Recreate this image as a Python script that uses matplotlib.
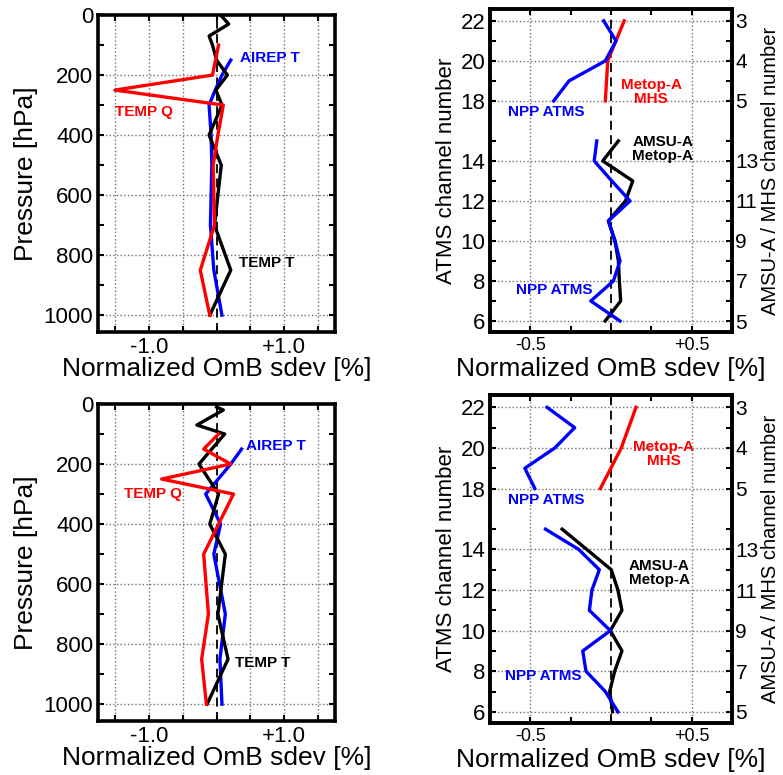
import matplotlib
matplotlib.use("Agg")
import matplotlib.pyplot as plt
from matplotlib.ticker import MultipleLocator, FixedLocator, NullFormatter

plt.rcParams["font.family"] = ["Liberation Sans", "DejaVu Sans"]

# --- conventional obs, upper panel ---
temp_t_p_1 = [5, 30, 70, 100, 150, 200, 250, 300, 400, 500, 700, 850, 1000]
temp_t_1 = [0.08, 0.18, -0.11, -0.06, 0.0, 0.16, -0.01, 0.08, -0.11, 0.07, -0.03, 0.21, -0.10]
temp_q_p_1 = [100, 200, 250, 300, 400, 500, 700, 850, 1000]
temp_q_1 = [0.03, -0.06, -1.50, 0.10, 0.02, -0.05, -0.03, -0.24, -0.10]
airep_p_1 = [150, 200, 250, 300, 400, 500, 700, 850, 1000]
airep_t_1 = [0.21, 0.08, -0.02, -0.11, -0.08, -0.07, -0.09, -0.04, 0.08]

# --- conventional obs, lower panel ---
temp_t_p_2 = [10, 20, 70, 100, 200, 300, 400, 500, 700, 850, 1000]
temp_t_2 = [0.0, 0.10, -0.29, 0.12, -0.26, 0.03, -0.10, 0.13, 0.02, 0.17, -0.14]
temp_q_p_2 = [100, 150, 200, 250, 300, 400, 500, 700, 850, 1000]
temp_q_2 = [0.03, -0.19, 0.21, -0.81, 0.25, 0.03, -0.19, -0.12, -0.22, -0.15]
airep_p_2 = [150, 200, 300, 400, 500, 700, 850, 1000]
airep_t_2 = [0.37, 0.21, -0.16, 0.06, -0.04, 0.13, 0.05, 0.08]

# --- radiances: ATMS channels 6-15 and 18-22, with one empty slot between ---
atms_lo_ch = [6, 7, 8, 9, 10, 11, 12, 13, 14, 15]
atms_hi_ch = [18, 19, 20, 21, 22]
amsua_ch = [5, 6, 7, 8, 9, 10, 11, 12, 13, 14]
mhs_ch = [5, 4, 3]
atms_lo_pos = [c - 6 for c in atms_lo_ch]
atms_hi_pos = [c - 7 for c in atms_hi_ch]
amsua_pos = [c - 5 for c in amsua_ch]
mhs_pos = [11, 13, 15]

atms_hi_1 = [-0.355, -0.26, -0.035, 0.031, -0.045]
mhs_1 = [-0.035, -0.02, 0.082]
atms_lo_1 = [0.056, -0.125, 0.015, 0.056, 0.025, -0.016, 0.118, 0.005, -0.104, -0.088]
amsua_1 = [-0.036, 0.06, 0.052, 0.046, 0.025, -0.016, 0.09, 0.135, -0.051, 0.046]

atms_hi_2 = [-0.472, -0.534, -0.348, -0.225, -0.396]
mhs_2 = [-0.066, 0.064, 0.155]
atms_lo_2 = [0.043, -0.035, -0.155, -0.175, -0.004, -0.134, -0.118, -0.072, -0.20, -0.406]
amsua_2 = [0.01, -0.008, 0.023, 0.068, -0.004, 0.068, 0.043, 0.002, -0.15, -0.303]

left_ticks = [0, 2, 4, 6, 8, 11, 13, 15]
left_labels = ["6", "8", "10", "12", "14", "18", "20", "22"]
right_labels = ["5", "7", "9", "11", "13", "5", "4", "3"]
minor_pos = [1, 3, 5, 7, 9, 12, 14]

BLUE = "#0000ff"
RED = "#ff0000"
LW = 2.4
XLABEL = "Normalized OmB sdev [%]"


def style_frame(ax):
    for sp in ax.spines.values():
        sp.set_linewidth(2.6)
    ax.tick_params(which="both", direction="in", width=1.5, length=4,
                   top=True, right=True)
    ax.axvline(0, color="black", lw=1.3, dashes=(5, 3), zorder=1)


def conv_panel(ax, tt_p, tt, tq_p, tq, ai_p, ai, labels):
    ax.plot(ai, ai_p, color=BLUE, lw=LW, zorder=3)
    ax.plot(tt, tt_p, color="black", lw=LW, zorder=4)
    ax.plot(tq, tq_p, color=RED, lw=LW, zorder=5)
    ax.set_xlim(-1.75, 1.75)
    ax.set_ylim(1056, 0)
    ax.xaxis.set_major_locator(FixedLocator([-1.0, 1.0]))
    ax.xaxis.set_minor_locator(MultipleLocator(0.5))
    ax.set_xticklabels(["-1.0", "+1.0"])
    ax.yaxis.set_major_locator(MultipleLocator(200))
    ax.yaxis.set_minor_locator(MultipleLocator(100))
    ax.tick_params(labelsize=16)
    for x in [-1.5, -1.0, -0.5, 0.5, 1.0, 1.5]:
        ax.axvline(x, color="0.45", lw=1, ls=":", zorder=0)
    for y in range(200, 1001, 200):
        ax.axhline(y, color="0.45", lw=1, ls=":", zorder=0)
    style_frame(ax)
    ax.set_ylabel("Pressure [hPa]", fontsize=19)
    ax.yaxis.set_label_coords(-0.255, 0.5)
    ax.set_xlabel(XLABEL, fontsize=19)
    ax.xaxis.set_label_coords(0.5, -0.08)
    for txt, x, y, col in labels:
        ax.text(x, y, txt, color=col, fontsize=11, fontweight="bold",
                ha="left", va="center", zorder=6)


def rad_panel(ax, a_hi, m, a_lo, am, labels):
    ax.plot(m, mhs_pos, color=RED, lw=LW, zorder=3)
    ax.plot(am, amsua_pos, color="black", lw=LW, zorder=4)
    ax.plot(a_hi, atms_hi_pos, color=BLUE, lw=LW, zorder=5)
    ax.plot(a_lo, atms_lo_pos, color=BLUE, lw=LW, zorder=5)
    ax.set_xlim(-0.75, 0.75)
    ax.set_ylim(-0.55, 15.6)
    ax.xaxis.set_major_locator(FixedLocator([-0.5, 0.5]))
    ax.xaxis.set_minor_locator(MultipleLocator(0.25))
    ax.set_xticklabels(["-0.5", "+0.5"])
    ax.yaxis.set_major_locator(FixedLocator(left_ticks))
    ax.yaxis.set_minor_locator(FixedLocator(minor_pos))
    ax.set_yticklabels(left_labels)
    ax.tick_params(axis="x", labelsize=13)
    ax.tick_params(axis="y", labelsize=16)
    for x in [-0.5, 0.5]:
        ax.axvline(x, color="0.45", lw=1, ls=":", zorder=0)
    for y in left_ticks:
        ax.axhline(y, color="0.45", lw=1, ls=":", zorder=0)
    style_frame(ax)
    ax.tick_params(which="both", right=False)
    ax.set_ylabel("ATMS channel number", fontsize=16)
    ax.yaxis.set_label_coords(-0.137, 0.5)
    ax.set_xlabel(XLABEL, fontsize=19)
    ax.xaxis.set_label_coords(0.5, -0.077)

    twin = ax.twinx()
    twin.set_ylim(ax.get_ylim())
    twin.yaxis.set_major_locator(FixedLocator(left_ticks))
    twin.yaxis.set_minor_locator(FixedLocator(minor_pos))
    twin.yaxis.set_minor_formatter(NullFormatter())
    twin.set_yticklabels(right_labels)
    twin.tick_params(which="both", direction="in", width=1.5, length=4,
                     labelsize=15, pad=2.5)
    for sp in twin.spines.values():
        sp.set_linewidth(2.6)
    twin.set_ylabel("AMSU-A / MHS channel number", fontsize=14.5)
    twin.yaxis.set_label_coords(1.12, 0.5)

    for txt, x, y, col in labels:
        ax.text(x, y, txt, color=col, fontsize=11, fontweight="bold",
                ha="center", va="center", linespacing=1.0, zorder=6)


fig = plt.figure(figsize=(7.83, 7.75), dpi=100)
ax1 = fig.add_axes([0.1252, 0.5716, 0.3027, 0.409])
ax2 = fig.add_axes([0.6258, 0.5716, 0.309, 0.417])
ax3 = fig.add_axes([0.1252, 0.0697, 0.3027, 0.409])
ax4 = fig.add_axes([0.6258, 0.0671, 0.309, 0.423])

conv_panel(ax1, temp_t_p_1, temp_t_1, temp_q_p_1, temp_q_1, airep_p_1, airep_t_1,
           [("AIREP T", 0.34, 144, BLUE), ("TEMP Q", -1.50, 324, RED),
            ("TEMP T", 0.33, 826, "black")])
conv_panel(ax3, temp_t_p_2, temp_t_2, temp_q_p_2, temp_q_2, airep_p_2, airep_t_2,
           [("AIREP T", 0.44, 140, BLUE), ("TEMP Q", -1.36, 301, RED),
            ("TEMP T", 0.28, 863, "black")])

rad_panel(ax2, atms_hi_1, mhs_1, atms_lo_1, amsua_1,
          [("Metop-A\nMHS", 0.25, 11.43, RED), ("NPP ATMS", -0.40, 10.43, BLUE),
           ("AMSU-A\nMetop-A", 0.32, 8.58, "black"), ("NPP ATMS", -0.35, 1.54, BLUE)])
rad_panel(ax4, atms_hi_2, mhs_2, atms_lo_2, amsua_2,
          [("Metop-A\nMHS", 0.327, 12.68, RED), ("NPP ATMS", -0.40, 10.42, BLUE),
           ("AMSU-A\nMetop-A", 0.30, 6.83, "black"), ("NPP ATMS", -0.42, 1.77, BLUE)])

fig.savefig("out.png", dpi=100)
